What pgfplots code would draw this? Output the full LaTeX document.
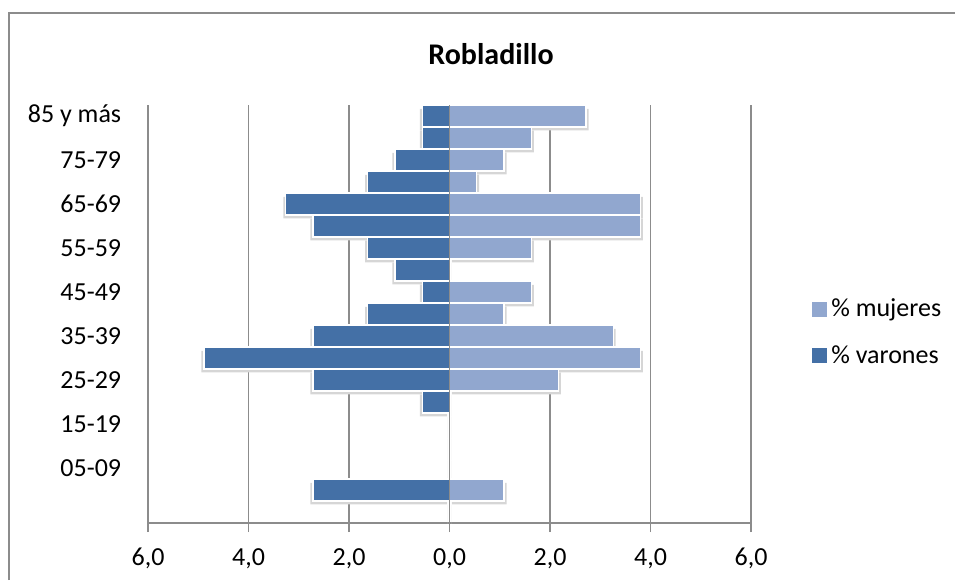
\documentclass[border=0pt]{standalone}
\usepackage{fontspec}
\setmainfont{Carlito}
\usepackage{pgfplots}
\usepackage{pgfplotstable}
\pgfplotsset{compat=1.18}
\definecolor{varon}{HTML}{4470A6}
\definecolor{mujer}{HTML}{91A7CF}
\definecolor{gridg}{HTML}{8C8C8C}
\pgfplotstableread{
idx V M
0 0 0
1 -2.72 1.09
2 0 0
3 0 0
4 0 0
5 -0.54 0
6 -2.72 2.17
7 -4.89 3.80
8 -2.72 3.26
9 -1.63 1.09
10 -0.54 1.63
11 -1.09 0
12 -1.63 1.63
13 -2.72 3.80
14 -3.26 3.80
15 -1.63 0.54
16 -1.09 1.09
17 -0.54 1.63
18 -0.54 2.72
}\data
\begin{document}
\begin{tikzpicture}[x=1bp,y=1bp]
\useasboundingbox (0,0) rectangle (477.5,290);
\draw[gridg, line width=1bp] (4.5,0) -- (4.5,283.5) -- (477.5,283.5);
\node[font=\bfseries\fontsize{15bp}{18bp}\selectfont, anchor=base] at (245.5,257.85) {Robladillo};
\begin{axis}[
  at={(74bp,28.5bp)}, anchor=south west,
  scale only axis, width=301.5bp, height=209bp,
  xmin=-6, xmax=6, ymin=-0.5, ymax=18.5,
  xbar, bar width=10.8bp, bar shift=0pt,
  axis x line*=bottom, axis y line*=left,
  y axis line style={draw=none},
  x axis line style={gridg, line width=0.8bp},
  xtick={-6,-4,...,6},
  xticklabels={{6,0},{4,0},{2,0},{0,0},{2,0},{4,0},{6,0}},
  ytick={2,4,...,18},
  yticklabels={05-09,15-19,25-29,35-39,45-49,55-59,65-69,75-79,85 y más},
  xmajorgrids, grid style={gridg, line width=0.7bp},
  tick align=outside,
  x tick style={gridg, line width=0.7bp},
  y tick style={draw=none},
  major tick length=4.5bp,
  ticklabel style={font=\fontsize{13bp}{15.6bp}\selectfont},
  x tick label style={inner sep=0pt, yshift=-8bp},
  y tick label style={inner sep=0pt, xshift=-8.75bp},
  legend style={at={(rel axis cs:1.101,0.456)}, anchor=west, draw=none, fill=none,
    font=\fontsize{13bp}{15.6bp}\selectfont, row sep=9bp, inner sep=0pt,
    cells={anchor=west}},
  legend image code/.code={\fill[#1,draw=none] (0bp,-3.75bp) rectangle (7.5bp,3.75bp);},
]
\addplot[xbar, fill=black!16, draw=none, forget plot, xshift=-1.2bp, yshift=-1.8bp] table[x=V, y=idx] {\data};
\addplot[xbar, fill=black!16, draw=none, forget plot, xshift=1.2bp, yshift=-1.8bp] table[x=M, y=idx] {\data};
\addplot[xbar, fill=mujer, draw=white, line width=0.8bp] table[x=M, y=idx] {\data};
\addplot[xbar, fill=varon, draw=white, line width=0.8bp] table[x=V, y=idx] {\data};
\draw[gridg, line width=0.7bp] (axis cs:0,-0.5) -- (axis cs:0,18.5);
\legend{\% mujeres, \% varones}
\end{axis}
\end{tikzpicture}
\end{document}
